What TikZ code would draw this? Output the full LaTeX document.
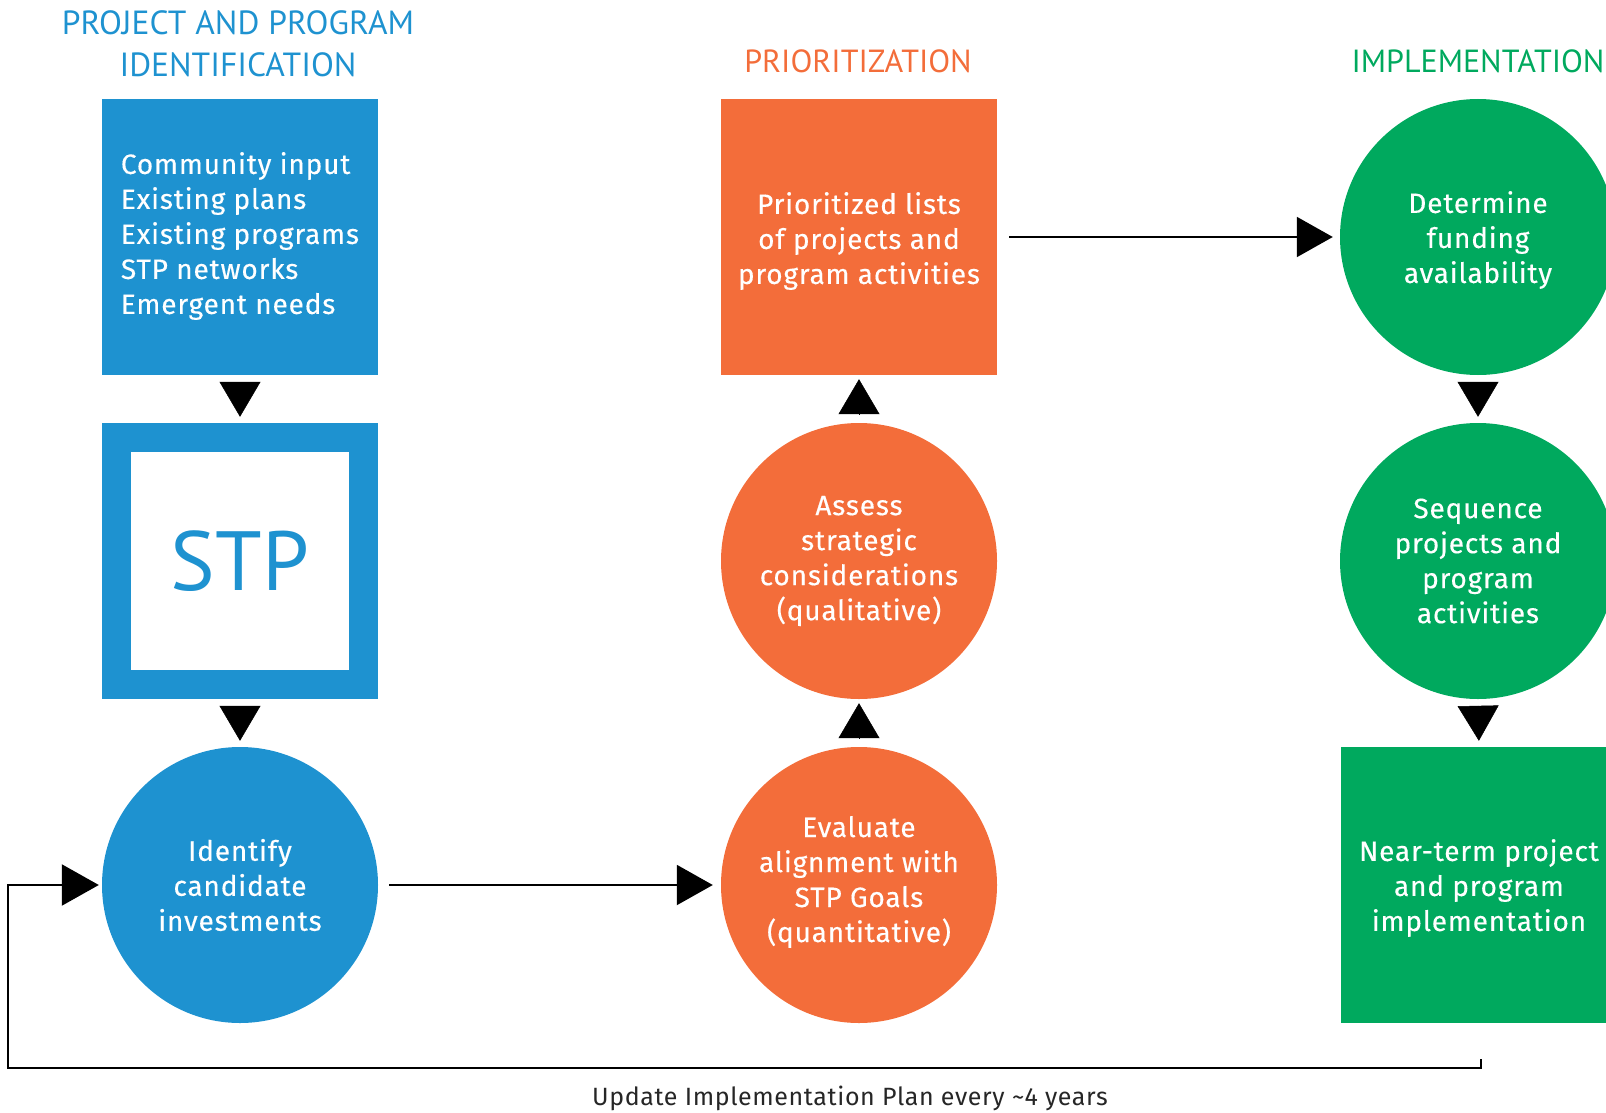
\documentclass[tikz,border=0pt]{standalone}
\usepackage{fontspec}
\setmainfont{Fira Sans}
\newfontfamily\bodyfont[LetterSpace=3,FakeBold=0.3]{Fira Sans}
\newfontfamily\labelfont[LetterSpace=2.5]{Fira Sans}
\newfontfamily\titlefont{PT Sans}
\usetikzlibrary{arrows.meta,calc}
\definecolor{stpblue}{HTML}{1E92D0}
\definecolor{stporange}{HTML}{F36D3A}
\definecolor{stpgreen}{HTML}{00A95E}
\begin{document}
\begin{tikzpicture}[x=1pt,y=-1pt,
  shapebox/.style={rectangle, minimum width=276pt, minimum height=276pt, inner sep=0pt, draw=none},
  shapecirc/.style={circle, minimum size=276pt, inner sep=0pt, draw=none},
  wtext/.style={text=white, font=\bodyfont\fontsize{28}{35}\selectfont, align=center, inner sep=0pt},
  titletext/.style={font=\titlefont\fontsize{32}{42}\selectfont, align=center},
  vtri/.style={-{Triangle[length=35pt,width=41pt]}, line width=0.5pt, shorten <=7pt, shorten >=6pt},
  harrow/.style={-{Triangle[length=36pt,width=40pt]}, line width=2pt},
]
\useasboundingbox (0,0) rectangle (1606,1113);
\clip (0,0) rectangle (1606,1113);

% titles
\node[titletext, text=stpblue, font=\titlefont\fontsize{33.5}{42}\selectfont] (t1) at (238,44) {PROJECT AND PROGRAM\\IDENTIFICATION};
\node[titletext, text=stporange, anchor=base] (t2) at (858,73) {PRIORITIZATION};
\node[titletext, text=stpgreen, anchor=base] (t3) at (1478,73) {IMPLEMENTATION};

% blue column
\node[shapebox, fill=stpblue] (inputs) at (240,237) {};
\node[wtext, align=left] (inputs-t) at ([yshift=1pt]inputs.center)
  {Community input\\Existing plans\\Existing programs\\STP networks\\Emergent needs};
\node[shapebox, fill=stpblue] (stpframe) at (240,561) {};
\node[fill=white, minimum size=218pt, inner sep=0pt, text=stpblue,
  font=\titlefont\fontsize{84}{84}\selectfont] (stp) at (stpframe) {STP};
\node[shapecirc, fill=stpblue] (ident) at (240,885) {};
\node[wtext] (ident-t) at (ident.center) {Identify\\candidate\\investments};

% orange column
\node[shapebox, fill=stporange] (lists) at (859,237) {};
\node[wtext] (lists-t) at ([yshift=-4pt]lists.center)
  {Prioritized lists\\of projects and\\program activities};
\node[shapecirc, fill=stporange] (assess) at (859,561) {};
\node[wtext] (assess-t) at (assess.center)
  {Assess\\strategic\\considerations\\(qualitative)};
\node[shapecirc, fill=stporange] (evaluate) at (859,885) {};
\node[wtext] (evaluate-t) at ([yshift=3pt]evaluate.center)
  {Evaluate\\alignment with\\STP Goals\\(quantitative)};

% green column
\node[shapecirc, fill=stpgreen] (funding) at (1478,237) {};
\node[wtext] (funding-t) at ([yshift=-3pt]funding.center)
  {Determine\\funding\\availability};
\node[shapecirc, fill=stpgreen] (sequence) at (1478,561) {};
\node[wtext] (sequence-t) at (sequence.center)
  {Sequence\\projects and\\program\\activities};
\node[shapebox, fill=stpgreen] (nearterm) at (1479,885) {};
\node[wtext] (nearterm-t) at ([yshift=-3pt]nearterm.center)
  {Near-term project\\and program\\implementation};

% vertical arrowheads
\draw[vtri] (inputs.south) -- (stpframe.north);
\draw[vtri] (stpframe.south) -- (ident.north);
\draw[vtri, shorten <=8pt, shorten >=4pt] (evaluate.north) -- (assess.south);
\draw[vtri, shorten <=8pt, shorten >=4pt] (assess.north) -- (lists.south);
\draw[vtri] (funding.south) -- (sequence.north);
\draw[vtri] (sequence.south) -- (nearterm.north);

% horizontal arrows
\draw[harrow, shorten <=11pt, shorten >=8pt] (ident.east) -- (evaluate.west);
\draw[harrow, shorten <=12pt, shorten >=7pt] (lists.east) -- (funding.west);

% feedback loop
\coordinate (loopR) at (1481,1059);
\coordinate (loopL) at (8,1068);
\draw[-{Triangle[length=37pt,width=41pt]}, line width=2.2pt, shorten >=3pt]
  (loopR) |- (loopL) |- (ident.west);
\node[font=\labelfont\fontsize{25}{25}\selectfont, text=black!85, anchor=base] (lbl) at (850,1105)
  {Update Implementation Plan every \textasciitilde 4 years};
\end{tikzpicture}
\end{document}
